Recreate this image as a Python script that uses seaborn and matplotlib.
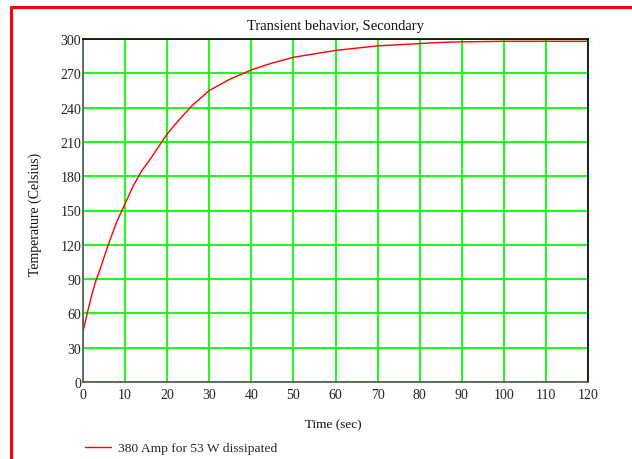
import matplotlib
matplotlib.use("Agg")
import matplotlib.pyplot as plt
from matplotlib.lines import Line2D
import seaborn as sns
import pandas as pd

# Secondary winding temperature during warm-up
time_sec = [0, 1, 2, 3, 4, 6, 8, 10, 12, 14, 16, 18, 20, 23, 26, 30, 35, 40,
            45, 50, 55, 60, 65, 70, 75, 80, 85, 90, 100, 110, 120]
temp_c = [44, 60, 75, 88, 98, 120, 140, 156, 172, 185, 195, 206, 217, 230, 242,
          255, 265, 273, 279, 284, 287, 290, 292, 294, 295, 296, 297, 297.5,
          298, 298, 298]
series_label = "380 Amp for 53 W dissipated"
x_ticks = list(range(0, 121, 10))
y_ticks = list(range(0, 301, 30))

df = pd.DataFrame({"Time": time_sec, "Temp": temp_c, "Series": series_label})

sns.set_theme(style="white")
plt.rcParams["font.family"] = ["Liberation Serif", "DejaVu Serif"]

W, H = 632, 460
fig = plt.figure(figsize=(W / 100, H / 100), dpi=100)
ax = fig.add_axes([83 / W, 1 - 383 / H, (588 - 83) / W, (383 - 40) / H])

sns.lineplot(data=df, x="Time", y="Temp", color="#ff0000", linewidth=1.0,
             ax=ax, label=series_label, legend=False)

ax.set_xlim(0, 120)
ax.set_ylim(0, 300)
ax.set_xticks(x_ticks)
ax.set_yticks(y_ticks)
ax.grid(True, color="#00ff00", linewidth=1.3)
ax.set_axisbelow(True)
ax.tick_params(axis="both", length=0, labelsize=10, colors="#222222")
ax.tick_params(axis="x", pad=4)
ax.tick_params(axis="y", pad=1.2)

for side in ["top", "right"]:
    ax.spines[side].set_color("black")
for side in ["left", "bottom"]:
    ax.spines[side].set_color("#555555")
for sp in ax.spines.values():
    sp.set_visible(True)
    sp.set_linewidth(1.2)

ax.set_title("Transient behavior, Secondary", fontsize=10.5, pad=7, color="#111111")
ax.set_xlabel("Time (sec)", fontsize=9.5, color="#111111")
ax.set_ylabel("Temperature (Celsius)", fontsize=10, color="#111111")
ax.xaxis.set_label_coords(0.495, -0.105)
ax.yaxis.label.set_va("center")
ax.yaxis.set_label_coords(-0.095, 0.49)

handle = Line2D([], [], color="#ff0000", linewidth=1.0)
fig.legend([handle], [series_label], loc="center left",
           bbox_to_anchor=(85 / W, 1 - 449 / H), frameon=False, fontsize=9.7,
           borderpad=0, borderaxespad=0, handlelength=1.95, handletextpad=0.5)

# red frame around the worksheet region
fig.add_artist(Line2D([11 / W, 11 / W], [0, 1 - 8 / H], color="#ff0000",
                      linewidth=2.2, transform=fig.transFigure))
fig.add_artist(Line2D([11 / W, 1], [1 - 8 / H, 1 - 8 / H], color="#ff0000",
                      linewidth=2.2, transform=fig.transFigure))

fig.savefig("out.png", dpi=100)
